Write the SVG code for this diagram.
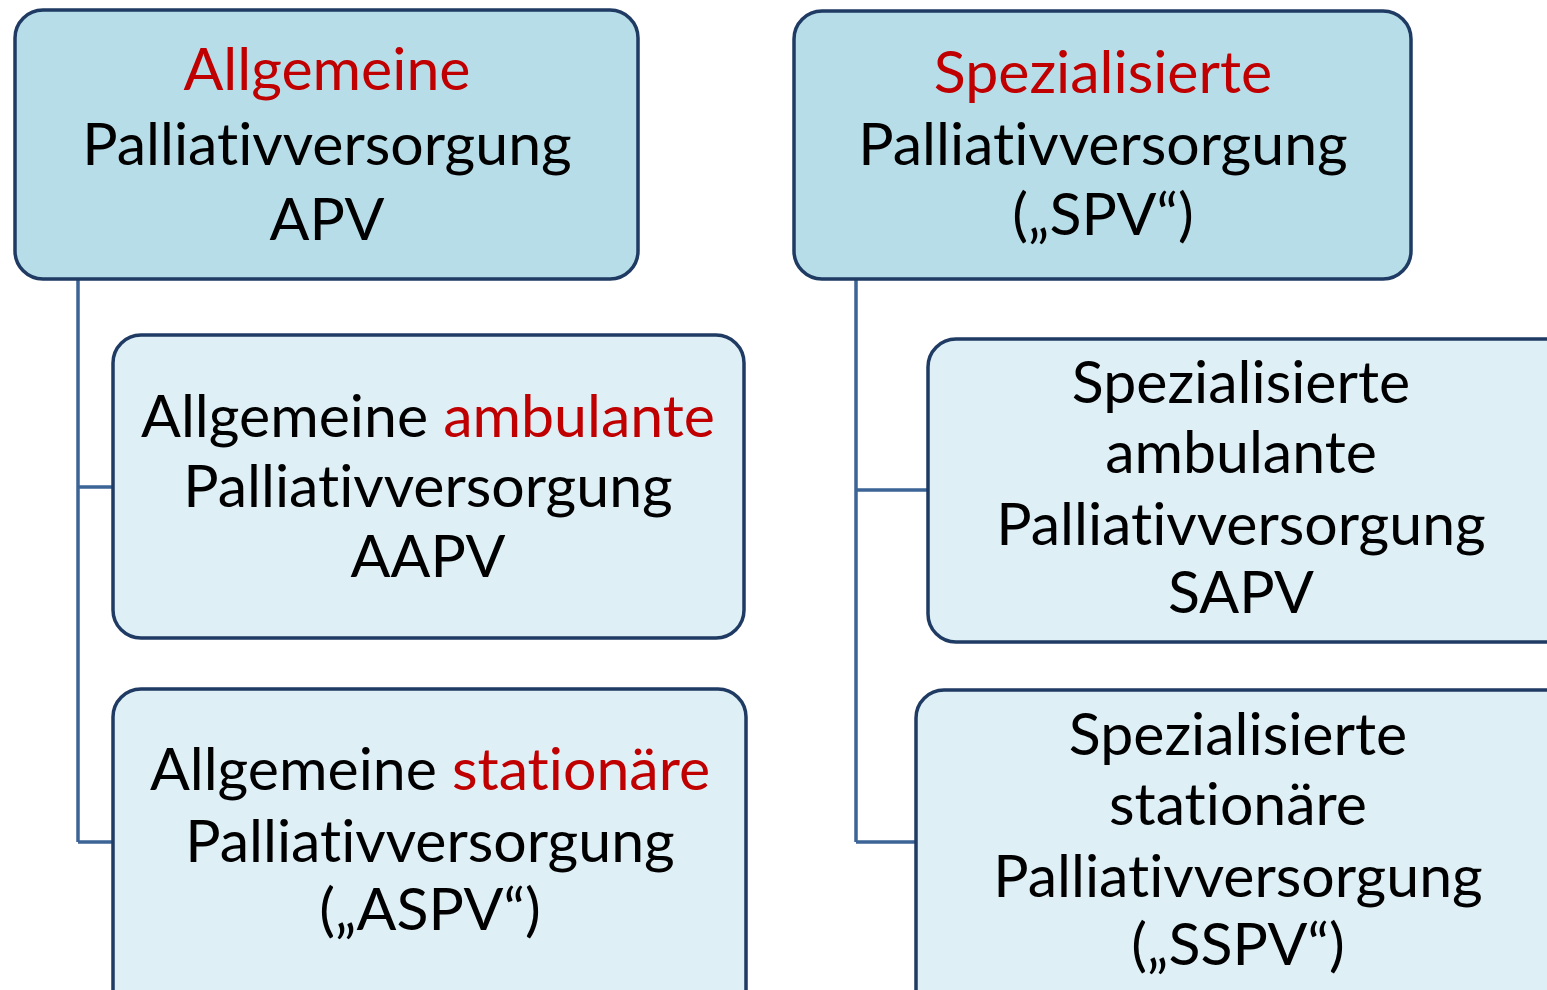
<svg xmlns="http://www.w3.org/2000/svg" width="1547" height="990" viewBox="0 0 1547 990">
<style>
.top{fill:#b7dde8;stroke:#1f3b63;stroke-width:3.5}
.sub{fill:#deeff6;stroke:#1f3b63;stroke-width:3.5}
.conn{fill:none;stroke:#3d6496;stroke-width:3.5}
text{font-family:Lato,"Open Sans",sans-serif;font-size:59px;fill:#000;text-anchor:middle;font-variant-ligatures:none}
.r{fill:#c00000}
</style>
<rect width="1547" height="990" fill="#fff"/>
<g id="connectors">
<path class="conn" d="M78,279 V842 M78,487 H113 M78,842 H113"/>
<path class="conn" d="M856,279 V842 M856,490 H928 M856,842 H916"/>
</g>
<g id="apv">
<rect class="top" x="15" y="10" width="623" height="269" rx="28"/>
<text x="327" y="90" class="r">Allgemeine</text>
<text x="327" y="165">Palliativversorgung</text>
<text x="327" y="240">APV</text>
</g>
<g id="spv">
<rect class="top" x="794" y="11" width="617" height="268" rx="28"/>
<text x="1103" y="93" class="r">Spezialisierte</text>
<text x="1103" y="165">Palliativversorgung</text>
<text x="1103" y="235">(„SPV“)</text>
</g>
<g id="aapv">
<rect class="sub" x="113" y="335" width="631" height="303" rx="28"/>
<text x="428" y="437">Allgemeine <tspan class="r">ambulante</tspan></text>
<text x="428" y="507">Palliativversorgung</text>
<text x="428" y="577">AAPV</text>
</g>
<g id="aspv">
<rect class="sub" x="113" y="689" width="633" height="330" rx="28"/>
<text x="430" y="790">Allgemeine <tspan class="r">stationäre</tspan></text>
<text x="430" y="862">Palliativversorgung</text>
<text x="430" y="930">(„ASPV“)</text>
</g>
<g id="sapv">
<rect class="sub" x="928" y="339" width="650" height="303" rx="28"/>
<text x="1241" y="403">Spezialisierte</text>
<text x="1241" y="473">ambulante</text>
<text x="1241" y="545">Palliativversorgung</text>
<text x="1241" y="613">SAPV</text>
</g>
<g id="sspv">
<rect class="sub" x="916" y="690" width="660" height="330" rx="28"/>
<text x="1238" y="755">Spezialisierte</text>
<text x="1238" y="825">stationäre</text>
<text x="1238" y="897">Palliativversorgung</text>
<text x="1238" y="965">(„SSPV“)</text>
</g>
</svg>
